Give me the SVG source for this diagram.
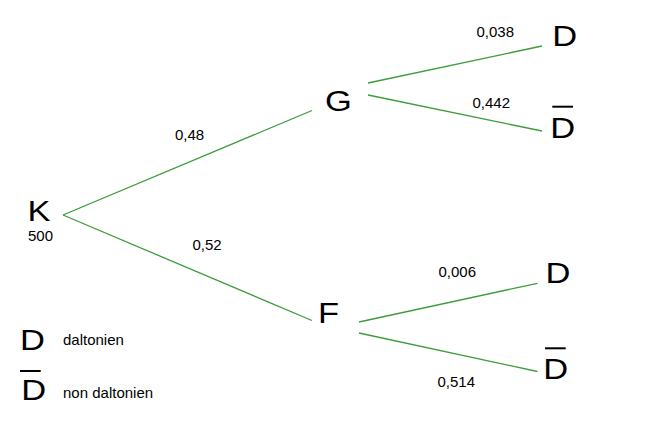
<svg xmlns="http://www.w3.org/2000/svg" width="668" height="424" viewBox="0 0 668 424">
<style>
.big{font-family:"Liberation Sans",Arial,sans-serif;font-size:30px;fill:#000}
.sm{font-family:"Liberation Sans",Arial,sans-serif;font-size:15px;fill:#000}
.edge{stroke:#3c9c3c;stroke-width:1.3;fill:none}
.bar{stroke:#000;stroke-width:2}
</style>
<rect width="668" height="424" fill="#fff"/>
<g id="connectors">
<line class="edge" x1="63" y1="215" x2="312" y2="110.5"/>
<line class="edge" x1="63" y1="215" x2="312" y2="320.5"/>
<line class="edge" x1="368" y1="83" x2="542" y2="46"/>
<line class="edge" x1="368" y1="95" x2="542" y2="131"/>
<line class="edge" x1="359" y1="322" x2="537.5" y2="283.3"/>
<line class="edge" x1="359" y1="333" x2="537.5" y2="371.5"/>
<text class="sm" x="175" y="140">0,48</text>
<text class="sm" x="192.5" y="250">0,52</text>
<text class="sm" x="476.5" y="37.3">0,038</text>
<text class="sm" x="472.5" y="108.3">0,442</text>
<text class="sm" x="438.5" y="277.3">0,006</text>
<text class="sm" x="437.5" y="386.7">0,514</text>
</g>
<g id="node-K">
<text class="big" transform="translate(27.5,221) scale(1.15,1)">K</text>
<text class="sm" x="28" y="241">500</text>
</g>
<g id="node-G">
<text class="big" transform="translate(325,110.5) scale(1.15,1)">G</text>
</g>
<g id="node-F">
<text class="big" transform="translate(318,323) scale(1.15,1)">F</text>
</g>
<g id="node-GD">
<text class="big" transform="translate(552.3,46) scale(1.15,1)">D</text>
</g>
<g id="node-GDbar">
<text class="big" transform="translate(550.3,137.7) scale(1.15,1)">D</text>
<line class="bar" x1="552.3" y1="106.7" x2="573" y2="106.7"/>
</g>
<g id="node-FD">
<text class="big" transform="translate(545.6,283.3) scale(1.15,1)">D</text>
</g>
<g id="node-FDbar">
<text class="big" transform="translate(543.3,379.3) scale(1.15,1)">D</text>
<line class="bar" x1="545" y1="348.3" x2="565.7" y2="348.3"/>
</g>
<g id="legend">
<text class="big" transform="translate(20,350) scale(1.15,1)">D</text>
<text class="sm" x="63" y="345">daltonien</text>
<text class="big" transform="translate(21.3,400) scale(1.15,1)">D</text>
<line class="bar" x1="20" y1="371" x2="40.7" y2="371"/>
<text class="sm" x="63" y="398.3">non daltonien</text>
</g>
</svg>
